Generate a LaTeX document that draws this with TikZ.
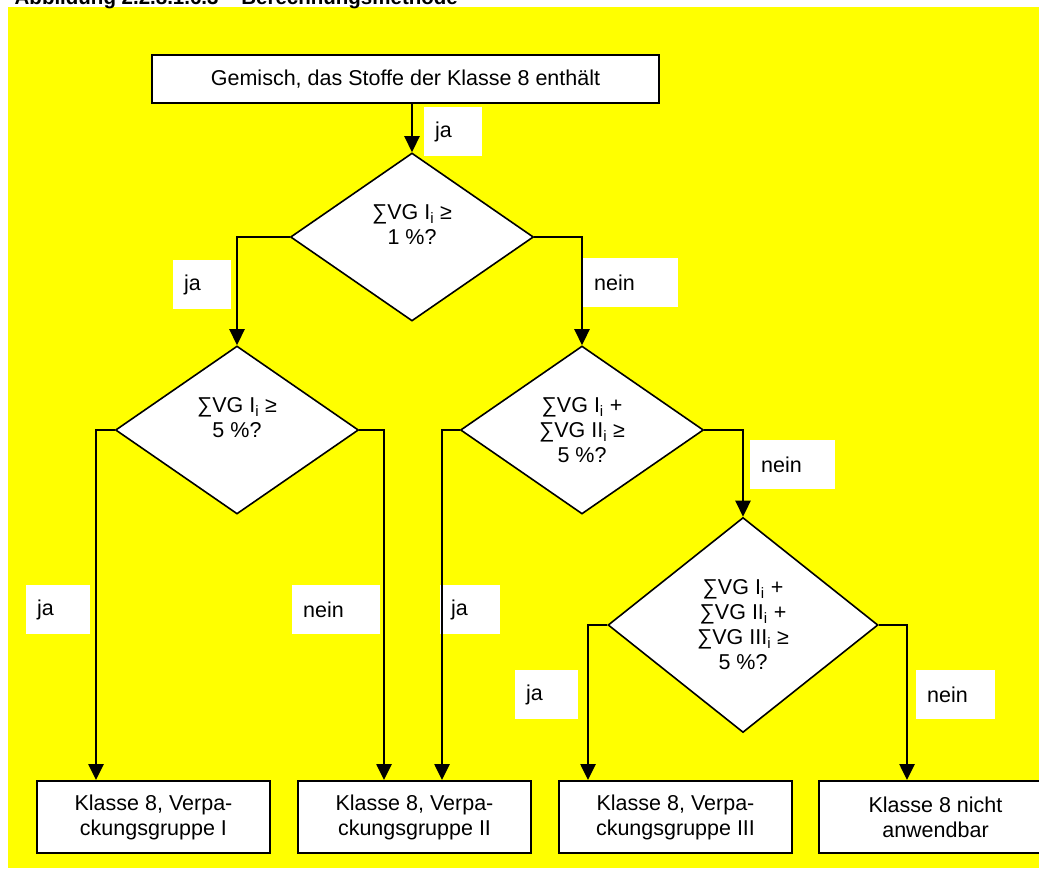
\documentclass[tikz,border=0pt]{standalone}
\usepackage{fontspec}
\setmainfont{Liberation Sans}
\usetikzlibrary{arrows.meta,shapes.geometric,calc}

\definecolor{gelb}{RGB}{255,255,0}
\newcommand{\vgsum}[1]{∑VG #1\textsubscript{i}}

\begin{document}
\begin{tikzpicture}[x=1pt,y=-1pt,node distance=261pt,font=\fontsize{21.5}{25}\selectfont,
		box/.style={draw,fill=white,line width=2pt,minimum width=233pt,minimum height=72pt,align=center,inner sep=0pt},
		ask/.style={draw,fill=white,shape=diamond,line width=1.6pt,minimum width=243pt,minimum height=168pt,align=center,inner sep=0pt},
		lbl/.style={fill=white,anchor=north west,minimum height=49pt,inner xsep=11pt,inner ysep=0pt,align=left},
		arr/.style={-{Triangle[length=16pt,width=15pt]},line width=2.6pt}]
		\useasboundingbox (0,0) rectangle (1039,870);
		\fill[white] (0,0) rectangle (1039,870);
		\fill[gelb] (8,7) rectangle (1039,868);
		\node[font=\bfseries\fontsize{20.5}{24}\selectfont,anchor=base east,inner sep=0pt] (title) at (458,5) {Abbildung 2.2.8.1.6.3 – Berechnungsmethode};

		\node[box,minimum width=507pt,minimum height=48pt] (start) at (405.5,79) {Gemisch, das Stoffe der Klasse 8 enthält};
		\node[ask] (d1) at (412,237) {\vgsum{I} ≥\\ 1 \%?\\ \mbox{}};
		\node[ask] (d2) [below of=d1,node distance=193pt,xshift=-175pt] {\vgsum{I} ≥\\ 5 \%?\\ \mbox{}};
		\node[ask] (d3) [below of=d1,node distance=193pt,xshift=170pt] {\vgsum{I} +\\ \vgsum{II} ≥\\ 5 \%?};
		\node[ask,minimum width=270pt,minimum height=215pt] (d4) [below of=d3,node distance=195pt,xshift=161pt] {\vgsum{I} +\\ \vgsum{II} +\\ \vgsum{III} ≥\\ 5 \%?};
		\node[box] (pg1) at (153.5,817) {Klasse 8, Verpa-\\ ckungsgruppe I};
		\node[box] (pg2) [right of=pg1] {Klasse 8, Verpa-\\ ckungsgruppe II};
		\node[box] (pg3) [right of=pg2] {Klasse 8, Verpa-\\ ckungsgruppe III};
		\node[box] (none) [right of=pg3,node distance=260pt] {Klasse 8 nicht\\ anwendbar};

		% Beschriftungen
		\node[lbl,text width=36pt] (ja1) at (424,107) {ja};
		\node[lbl,text width=36pt] (ja2) at (173,260) {ja};
		\node[lbl,text width=73pt] (nein1) at (583,258) {nein};
		\node[lbl,text width=42pt] (ja3) at (26,585) {ja};
		\node[lbl,text width=66pt] (nein2) at (292,585) {nein};
		\node[lbl,text width=38pt] (ja4) at (440,585) {ja};
		\node[lbl,text width=63pt] (nein3) at (750,440) {nein};
		\node[lbl,text width=41pt] (ja5) at (515,670) {ja};
		\node[lbl,text width=57pt] (nein4) at (916,670) {nein};

		\draw[arr] (start.south -| d1.north) -- (d1.north);
		\draw[arr] (d1.west) -| (d2.north);
		\draw[arr] (d1.east) -| (d3.north);
		\draw[arr] (d2.west) -| ([xshift=-57.5pt]pg1.north);
		\draw[arr] (d2.east) -| ([xshift=-30.5pt]pg2.north);
		\draw[arr] (d3.west) -| ([xshift=27.5pt]pg2.north);
		\draw[arr] (d3.east) -| (d4.north);
		\draw[arr] (d4.west) -| ([xshift=-87.5pt]pg3.north);
		\draw[arr] (d4.east) -| ([xshift=-28.5pt]none.north);
	\end{tikzpicture}
\end{document}
